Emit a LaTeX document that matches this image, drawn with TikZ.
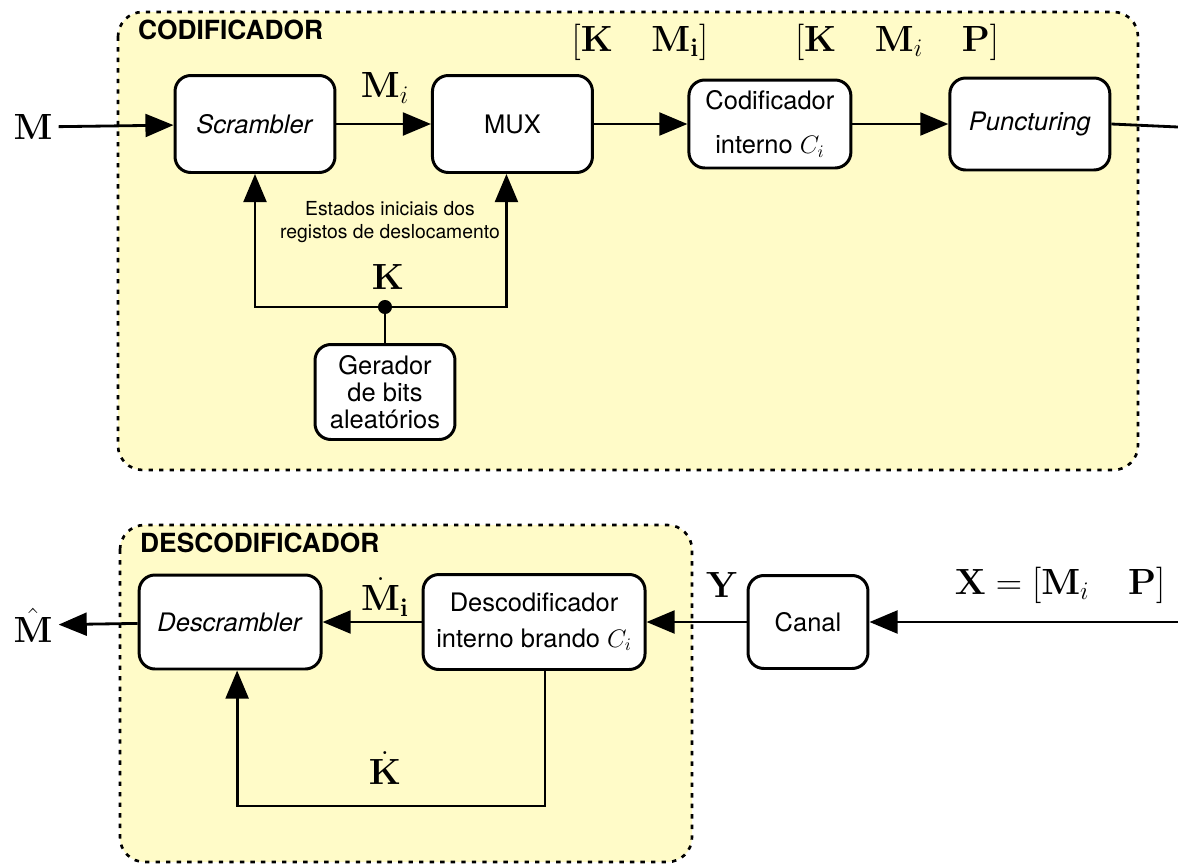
\documentclass[tikz,border=0pt]{standalone}
\usepackage{amsmath}
\usepackage{amssymb}
\usepackage{bm}
\usepackage[no-math]{fontspec}
\setmainfont{TeX Gyre Heros}
\usetikzlibrary{arrows.meta,positioning}
\definecolor{caixa}{RGB}{255,251,200}

\tikzset{
  bloco/.style={draw, line width=1.7pt, rounded corners=9pt, fill=white, align=center,
    font=\fontsize{14.5}{17}\selectfont, inner sep=2pt},
  seta/.style={line width=1.6pt, -{Triangle[length=16pt,width=13pt]}},
  linha/.style={line width=1.6pt},
  grupo/.style={draw, line width=1.5pt, dash pattern=on 2.5pt off 3.5pt, rounded corners=14pt, fill=caixa},
  titulo/.style={font=\fontsize{15}{17}\selectfont\bfseries, anchor=west},
  rotulo/.style={font=\fontsize{22}{26}\selectfont},
  ponto/.style={circle, fill, inner sep=0pt, minimum size=8pt},
}

\begin{document}
\begin{tikzpicture}[x=0.02cm, y=-0.02cm, node distance=5.15cm, on grid]
\useasboundingbox (0,0) rectangle (1178,866);
% caixas de fundo
\draw[grupo] (118,12) rectangle (1138,470);
\draw[grupo] (120,525) rectangle (692,862);
\node[titulo] (tcod) at (132,30) {CODIFICADOR};
\node[titulo] (tdesc) at (134,543) {DESCODIFICADOR};

% codificador
\node[bloco, minimum width=3.2cm, minimum height=1.94cm] (scr) at (255,124) {\textit{Scrambler}};
\node[bloco, minimum width=3.2cm, minimum height=1.94cm] (mux) [right=of scr] {MUX};
\node[bloco, minimum width=3.24cm, minimum height=1.76cm] (cod) [right=of mux] {Codificador\\[8pt]interno $C_i$};
\node[bloco, minimum width=3.2cm, minimum height=1.84cm] (punc) [right=5.2cm of cod] {\textit{Puncturing}};
\node[bloco, font=\fontsize{14.5}{15.5}\selectfont, minimum width=2.8cm, minimum height=1.9cm] (gen) at (385,392) {Gerador\\de bits\\aleatórios};

\node[rotulo] (min) at (33,127) {$\mathbf{M}$};
\node[rotulo] (lmi) at (385,88) {$\mathbf{M}_i$};
\node[rotulo] (lkm) at (640,42) {$[\mathbf{K}\quad\mathbf{M_i}]$};
\node[rotulo] (lkmp) at (897,42) {$[\mathbf{K}\quad\mathbf{M}_i\quad\mathbf{P}]$};
\node[rotulo] (lk) at (388,277) {$\mathbf{K}$};
\node[font=\fontsize{11}{13}\selectfont, align=center] (lest) at (390,222) {Estados iniciais dos\\registos de deslocamento};
\node[ponto] (jk) at (385,307) {};
\coordinate (pout) at (1178,127);

\draw[seta] (min) -- (scr);
\draw[seta] (scr) -- (mux);
\draw[seta] (mux) -- (cod);
\draw[seta] (cod) -- (punc);
\draw[linha] (punc.east) -- (pout);
\draw[linha] (gen) -- (jk);
\draw[seta] (jk) -| (scr.south);
\draw[seta] (jk) -| ([xshift=-0.12cm]mux.south);

% descodificador
\node[bloco, minimum width=2.4cm, minimum height=1.86cm] (canal) at (808,622) {Canal};
\node[bloco, minimum width=4.44cm, minimum height=1.9cm] (dec) [left=5.48cm of canal] {Descodificador\\[3pt]interno brando $C_i$};
\node[bloco, minimum width=3.64cm, minimum height=1.88cm] (descr) [left=6.08cm of dec] {\textit{Descrambler}};

\node[rotulo] (mhat) at (33,625) {$\hat{\mathbf{M}}$};
\node[rotulo] (ly) at (722,585) {$\mathbf{Y}$};
\node[rotulo] (lx) at (1060,585) {$\mathbf{X}=[\mathbf{M}_i\quad\mathbf{P}]$};
\node[rotulo] (lmd) at (385,597) {$\dot{\mathbf{M}}_{\mathbf{i}}$};
\node[rotulo] (lkd) at (385,768) {$\dot{\mathbf{K}}$};
\coordinate (xin) at (1178,622);
\coordinate (kfb) at (385,806);

\draw[seta] (xin) -- (canal);
\draw[seta] (canal) -- (dec);
\draw[seta] (dec) -- (descr);
\draw[seta] (descr) -- (mhat);
\draw[seta] ([xshift=0.22cm]dec.south) |- (kfb) -| ([xshift=0.14cm]descr.south);
\end{tikzpicture}
\end{document}
